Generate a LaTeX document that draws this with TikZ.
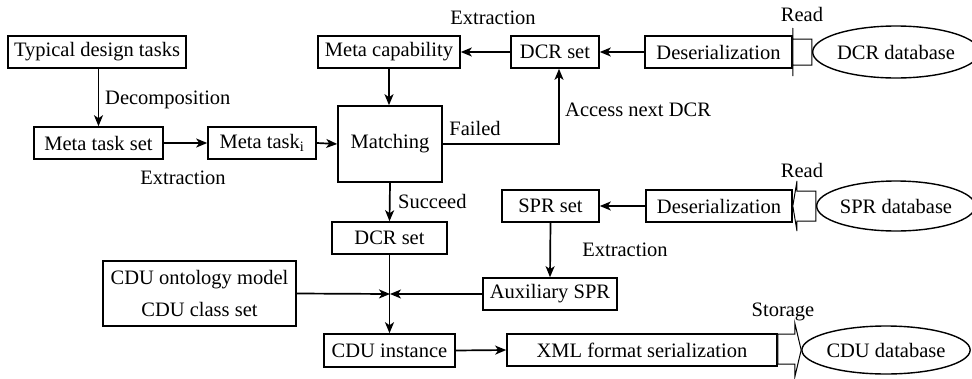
\documentclass[tikz,border=0pt]{standalone}
\usepackage{fontspec}
\setmainfont{Liberation Serif}
\usetikzlibrary{arrows.meta,shapes.geometric,calc}
\begin{document}
\begin{tikzpicture}[x=1pt,y=-1pt,
  font=\fontsize{20.5}{32}\selectfont,
  box/.style={draw, line width=1.6pt, inner sep=0pt, minimum height=32pt},
  db/.style={draw, ellipse, line width=1.4pt, inner sep=0pt, fill=white},
  arr/.style={-{Stealth[length=11pt,width=9pt,inset=3pt]}, line width=1.7pt},
  hollow/.style={draw, line width=1pt, fill=white, line join=miter},
  lbl/.style={inner sep=0pt}]
\useasboundingbox (0,0) rectangle (972,378);

% boxes
\node[box, minimum width=178pt] (tdt) at (97,52) {Typical design tasks};
\node[box, minimum width=129pt] (mts) at (98.5,143) {Meta task set};
\node[box, minimum width=108pt] (mti) at (262,143) {Meta task\textsubscript{i}};
\node[box, minimum width=104pt, minimum height=76pt] (match) at (390,144) {Matching};
\node[box, minimum width=142pt] (mcap) at (389,52) {Meta capability};
\node[box, minimum width=88pt] (dcr1) at (555,52) {DCR set};
\node[box, minimum width=147pt] (des1) at (718.5,52) {Deserialization};
\node[db, minimum width=154pt, minimum height=52pt] (db1) at (896,52) {DCR database};
\node[box, minimum width=97pt] (spr) at (550.5,206) {SPR set};
\node[box, minimum width=146pt] (des2) at (719,206) {Deserialization};
\node[db, minimum width=154pt, minimum height=50pt] (db2) at (896,206) {SPR database};
\node[box, minimum width=134pt] (aux) at (550,294) {Auxiliary SPR};
\node[box, minimum width=115pt] (dcr2) at (389.5,238) {DCR set};
\node[box, minimum width=193pt, minimum height=65pt, align=center] (model) at (199.5,293.5) {CDU ontology model\\CDU class set};
\node[box, minimum width=131pt, minimum height=33pt] (cdui) at (389.5,350.5) {CDU instance};
\node[box, minimum width=270pt] (xml) at (642,350) {XML format serialization};
\node[db, minimum width=168pt, minimum height=48pt] (db3) at (886,350) {CDU database};
\coordinate (J) at (390,294);

% hollow arrows
\draw[hollow] ($(db1.west)+(0,-13)$) -- ($(db1.west)+(-19,-13)$) -- ($(db1.west)+(-19,-24)$)
  -- (des1.east) -- ($(db1.west)+(-19,24)$) -- ($(db1.west)+(-19,13)$) -- ($(db1.west)+(0,13)$) -- cycle;
\draw[hollow] ($(db2.west)+(0,-15)$) -- ($(db2.west)+(-19,-15)$) -- ($(db2.west)+(-19,-25)$)
  -- (des2.east) -- ($(db2.west)+(-19,25)$) -- ($(db2.west)+(-19,15)$) -- ($(db2.west)+(0,15)$) -- cycle;
\draw[hollow] ($(xml.east)+(0,-16)$) -- ($(xml.east)+(17,-16)$) -- ($(xml.east)+(17,-27)$)
  -- (db3.west) -- ($(xml.east)+(17,27)$) -- ($(xml.east)+(17,14)$) -- ($(xml.east)+(0,14)$) -- cycle;

% connectors
\draw[arr] (mts.north |- tdt.south) -- (mts.north);
\draw[arr] (mts.east) -- (mti.west);
\draw[arr] (mti.east) -- (match.west);
\draw[arr] (mcap.south) -- (match.north -| mcap.south);
\draw[arr] (dcr1.west) -- (mcap.east);
\draw[arr] (des1.west) -- (dcr1.east);
\draw[arr] (match.east) -| ([xshift=4pt]dcr1.south);
\draw[arr] (match.south) -- (dcr2.north);
\draw[arr] (dcr2.south) -- (cdui.north);
\draw[arr] (model.east) -- (J);
\draw[arr] (aux.west) -- (J);
\draw[arr] (spr.south) -- (aux.north);
\draw[arr] (des2.west) -- (spr.east);
\draw[arr] (cdui.east) -- (xml.west);

% labels
\node[lbl, anchor=west] at (105,100) {Decomposition};
\node[lbl] at (183,178) {Extraction};
\node[lbl] at (493,18) {Extraction};
\node[lbl] at (802,14) {Read};
\node[lbl] at (475,128) {Failed};
\node[lbl, anchor=west] at (565,110) {Access next DCR};
\node[lbl, anchor=west] at (398,201) {Succeed};
\node[lbl] at (625,250) {Extraction};
\node[lbl] at (802,170) {Read};
\node[lbl] at (783,312) {Storage};
\end{tikzpicture}
\end{document}
